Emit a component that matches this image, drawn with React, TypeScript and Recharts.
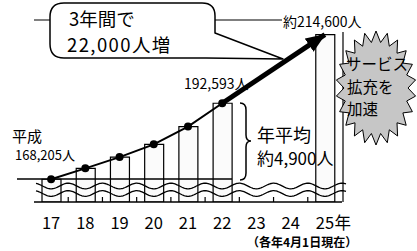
import React from 'react';
import { ComposedChart, Bar, Line, XAxis, YAxis } from 'recharts';

// 各年4月1日現在の人口（平成17〜25年）
const years = ['17', '18', '19', '20', '21', '22', '23', '24', '25'];
const population = [168205, 171700, 175300, 179400, 185100, 192593, null, null, 214600];
const actual = [168205, 171700, 175300, 179400, 185100, 192593, null, null, null];
const projected = [null, null, null, null, null, 192593, null, null, 214600];

const data = years.map((year, i) => ({
  year,
  population: population[i],
  actual: actual[i],
  projected: projected[i],
}));

const FONT = "'Noto Sans CJK JP', 'Noto Sans', sans-serif";

// wavy break marks across the truncated axis
const wave = (y0: number, amp: number) => {
  const left = 34;
  const band = 308 / 9;
  let d = '';
  for (let x = 36; x <= 346; x += 1) {
    const y = y0 - amp * Math.cos((2 * Math.PI * (x - left)) / band);
    d += `${d ? 'L' : 'M'}${x},${y.toFixed(2)}`;
  }
  return d;
};

const starburst = () => {
  const cx = 376;
  const cy = 88;
  const n = 22;
  const pts: string[] = [];
  for (let i = 0; i < n * 2; i++) {
    const a = (Math.PI * i) / n - Math.PI / 2;
    const outer = i % 2 === 0;
    const rx = outer ? 40 : 32;
    const ry = outer ? 57 : 46;
    pts.push(`${(cx + rx * Math.cos(a)).toFixed(1)},${(cy + ry * Math.sin(a)).toFixed(1)}`);
  }
  return pts.join(' ');
};

const Dot = (props: any) => {
  const { cx, cy, value } = props;
  if (value == null || cy == null) return <g />;
  return <circle cx={cx} cy={cy} r={4} fill="#000" />;
};

const YearTick = (props: any) => {
  const { x, payload } = props;
  const last = payload.value === years[years.length - 1];
  return (
    <g>
      <text x={x} y={229} textAnchor="middle" fontSize={16.5} fontFamily={FONT} fill="#000">
        {payload.value}
      </text>
      {last && (
        <text x={x + 9.5} y={229} textAnchor="start" fontSize={16.5} fontFamily={FONT} fill="#000">
          年
        </text>
      )}
    </g>
  );
};

const boundaries = years.slice(1).map((_, i) => 34 + ((i + 1) * 308) / 9);

export default function App() {
  return (
    <div style={{ position: 'absolute', left: 0, top: 0, width: 417, height: 251, background: '#fff' }}>
      <svg width={0} height={0} style={{ position: 'absolute' }}>
        <defs>
          <marker
            id="arrowHead"
            markerUnits="userSpaceOnUse"
            markerWidth={22}
            markerHeight={18}
            refX={19}
            refY={8}
            orient="auto"
          >
            <path d="M0,0 L20,8 L0,16 Z" fill="#000" />
          </marker>
        </defs>
      </svg>
      <ComposedChart
        width={417}
        height={251}
        data={data}
        margin={{ top: 20, right: 75, bottom: 19, left: 34 }}
      >
        <XAxis
          dataKey="year"
          height={30}
          axisLine={{ stroke: '#000', strokeWidth: 1.5 }}
          tickLine={false}
          tickSize={0}
          tick={<YearTick />}
          interval={0}
        />
        <YAxis
          width={0}
          type="number"
          domain={[160900, 219300]}
          allowDataOverflow
          tick={false}
          tickLine={false}
          axisLine={{ stroke: '#000', strokeWidth: 1.2 }}
        />
        <Bar
          dataKey="population"
          barSize={19}
          fill="#fbfbfb"
          stroke="#000"
          strokeWidth={1.2}
          isAnimationActive={false}
        />
        <Line
          dataKey="actual"
          type="linear"
          stroke="#000"
          strokeWidth={2}
          dot={<Dot />}
          activeDot={false}
          isAnimationActive={false}
        />
        <Line
          dataKey="projected"
          type="linear"
          stroke="#000"
          strokeWidth={5}
          connectNulls
          dot={false}
          activeDot={false}
          markerEnd="url(#arrowHead)"
          isAnimationActive={false}
        />
      </ComposedChart>

      <svg
        width={417}
        height={251}
        style={{ position: 'absolute', left: 0, top: 0, pointerEvents: 'none' }}
        fontFamily={FONT}
      >
        {/* frame */}
        <line x1={34} y1={20} x2={282} y2={20} stroke="#000" strokeWidth={1.2} />
        <line x1={343} y1={32} x2={343} y2={202} stroke="#000" strokeWidth={1.2} />
        {/* base value line and wavy break */}
        <line x1={17} y1={179} x2={232} y2={179} stroke="#000" strokeWidth={1.5} />
        <path d={wave(186, 2.8)} fill="none" stroke="#000" strokeWidth={1.3} />
        <path d={wave(193.5, 2.8)} fill="none" stroke="#000" strokeWidth={1.3} />
        {boundaries.map((x) => (
          <line key={x} x1={x} y1={202} x2={x} y2={197} stroke="#000" strokeWidth={1.2} />
        ))}

        {/* speech bubble */}
        <path
          d="M64,3 L202,3 Q215,3 215,16 L215,33 L283,59 L206,58 L64,58 Q50,58 50,44 L50,17 Q50,3 64,3 Z"
          fill="#fff"
          stroke="#000"
          strokeWidth={1.5}
          strokeLinejoin="round"
        />
        <text x={69} y={26} fontSize={18.5} fill="#000">3年間で</text>
        <text x={67} y={52} fontSize={18.5} letterSpacing={1.4} fill="#000">22,000人増</text>

        <text x={283} y={27} fontSize={14} fill="#000">約214,600人</text>
        <text x={184} y={89} fontSize={14} fill="#000">192,593人</text>

        <rect x={11} y={129} width={76} height={32} fill="#fff" />
        <text x={12} y={142} fontSize={15} fill="#000">平成</text>
        <text x={15} y={160} fontSize={13} fill="#000">168,205人</text>

        {/* brace */}
        <path
          d="M240,103 Q246,103 246,110 L246,135 Q246,141 251,141 Q246,141 246,147 L246,173 Q246,180 240,180"
          fill="none"
          stroke="#000"
          strokeWidth={1.5}
        />
        <text x={257} y={142} fontSize={18} fill="#000">年平均</text>
        <text x={257} y={165} fontSize={17} fill="#000">約4,900人</text>

        {/* starburst */}
        <polygon points={starburst()} fill="#c6c6c6" stroke="#000" strokeWidth={1} />
        <text x={346} y={70} fontSize={15.5} fill="#000">サービス</text>
        <text x={347} y={93} fontSize={15.5} fill="#000">拡充を</text>
        <text x={347} y={115} fontSize={15.5} fill="#000">加速</text>

        <text x={247} y={247} fontSize={12} fontWeight="bold" fill="#000">（各年4月1日現在）</text>
      </svg>
    </div>
  );
}
